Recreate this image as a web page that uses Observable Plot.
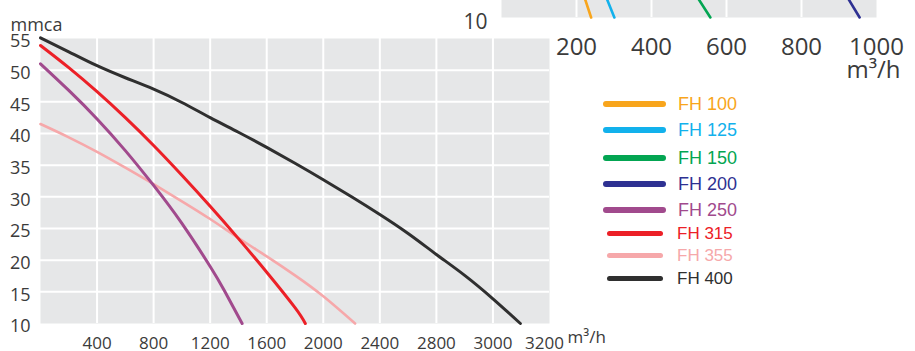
<!DOCTYPE html>
<html><head><meta charset="utf-8">
<script src="https://cdn.jsdelivr.net/npm/d3@7"></script>
<script src="https://cdn.jsdelivr.net/npm/@observablehq/plot@0.6"></script>
<style>
body{margin:0;background:#fff;}
#wrap{position:relative;width:915px;height:351px;overflow:hidden;background:#fff;}
#wrap svg{position:absolute;left:0;}
.sw{position:absolute;border-radius:4px;}
.lt{position:absolute;font-family:"Liberation Sans",Arial,sans-serif;line-height:1;white-space:nowrap;}
</style></head><body><div id="wrap"></div>
<script>
// ---------- data ----------
const xTickLabels = [400, 800, 1200, 1600, 2000, 2400, 2800, 3000, 3200];
const yTickLabels = [10, 15, 20, 25, 30, 35, 40, 45, 50, 55];
const topTickLabels = [200, 400, 600, 800, 1000];

const fanNames  = ["FH 100", "FH 125", "FH 150", "FH 200", "FH 250", "FH 315", "FH 355", "FH 400"];
const fanColors = ["#F8A51C", "#12B1EC", "#03A552", "#2E3192", "#A14A8D", "#EC2027", "#F6A8AA", "#2F2F2F"];

// main chart (m3/h, mmca)
const fh250Flow = [0, 200, 400, 600, 800, 1000, 1200, 1300, 1426];
const fh250Pres = [51.0, 46.8, 42.3, 37.3, 31.8, 25.8, 19.0, 15.2, 10.0];
const fh315Flow = [0, 200, 400, 600, 800, 1000, 1200, 1400, 1600, 1800, 1873];
const fh315Pres = [53.9, 50.4, 46.6, 42.5, 38.1, 33.4, 28.5, 23.4, 18.1, 12.5, 10.0];
const fh355Flow = [0, 200, 400, 600, 800, 1000, 1200, 1400, 1600, 1800, 2000, 2225];
const fh355Pres = [41.5, 39.4, 37.1, 34.6, 32.0, 29.3, 26.5, 23.5, 20.6, 17.6, 14.3, 10.0];
const fh400Flow = [0, 200, 400, 600, 800, 1000, 1200, 1400, 1600, 1800, 2000, 2200, 2400, 2600, 2800, 2900, 3000, 3097];
const fh400Pres = [55.1, 52.9, 50.7, 48.8, 47.0, 44.9, 42.5, 40.2, 37.8, 35.3, 32.7, 30.0, 27.2, 24.2, 20.9, 17.6, 13.9, 10.0];

// upper (cropped) chart: only its bottom edge is visible
const fh100Flow = [239, 221]; const fh100Pres = [10, 13.5];
const fh125Flow = [301, 279]; const fh125Pres = [10, 13.5];
const fh150Flow = [557, 522]; const fh150Pres = [10, 13.5];
const fh200Flow = [955, 922]; const fh200Pres = [10, 13.5];

// ---------- build ----------
const rows = (name, f, p) => f.map((q, i) => ({fan: name, flow: q, pres: p[i]}));
const col = n => fanColors[fanNames.indexOf(n)];
const wrap = document.getElementById("wrap");
const FONT = "'Open Sans', sans-serif";
const TXT = "#3b3b3b";
const fmt = d => String(d);

const mainLines = [
  ["FH 355", fh355Flow, fh355Pres, 2.6],
  ["FH 250", fh250Flow, fh250Pres, 3],
  ["FH 315", fh315Flow, fh315Pres, 3],
  ["FH 400", fh400Flow, fh400Pres, 3]
].map(([n, f, p, w]) => Plot.line(rows(n, f, p), {x: "flow", y: "pres", stroke: col(n), strokeWidth: w, curve: "natural"}));

const main = Plot.plot({
  width: 915, height: 351,
  marginLeft: 40, marginRight: 366, marginTop: 38, marginBottom: 28,
  style: {fontFamily: FONT, color: TXT, background: "transparent"},
  x: {type: "linear", domain: [0, ...xTickLabels]},
  y: {domain: [10, 55]},
  marks: [
    Plot.frame({fill: "#E6E7E8", stroke: "none"}),
    Plot.gridX(xTickLabels.slice(0, -1), {stroke: "#fff", strokeOpacity: 1, strokeWidth: 2}),
    Plot.gridY(yTickLabels.slice(1, -1), {stroke: "#fff", strokeOpacity: 1, strokeWidth: 2}),
    Plot.axisX(xTickLabels.slice(0, -1), {tickSize: 0, tickPadding: 13, fontSize: 17, label: null, tickFormat: fmt}),
    Plot.axisX(xTickLabels.slice(-1), {tickSize: 0, tickPadding: 13, fontSize: 17, dx: -5, label: null, tickFormat: fmt}),
    Plot.axisY(yTickLabels, {tickSize: 0, tickPadding: 10, fontSize: 18, dy: 3, label: null, tickFormat: fmt}),
    ...mainLines,
    Plot.text(["mmca"], {frameAnchor: "top-left", textAnchor: "start", dx: -30, dy: -20, fontSize: 18, fill: TXT}),
    Plot.text(["m³/h"], {frameAnchor: "bottom-right", textAnchor: "start", dx: 18, dy: 19, fontSize: 17, fill: TXT})
  ]
});
main.style.top = "0px";
wrap.appendChild(main);

const topLines = [
  ["FH 100", fh100Flow, fh100Pres],
  ["FH 125", fh125Flow, fh125Pres],
  ["FH 150", fh150Flow, fh150Pres],
  ["FH 200", fh200Flow, fh200Pres]
].map(([n, f, p]) => Plot.line(rows(n, f, p), {x: "flow", y: "pres", stroke: col(n), strokeWidth: 2.6}));

const upper = Plot.plot({
  width: 915, height: 200,
  marginLeft: 501, marginRight: 39, marginTop: 0, marginBottom: 83,
  style: {fontFamily: FONT, color: TXT, background: "transparent"},
  x: {domain: [0, 1000]},
  y: {domain: [10, 30]},
  marks: [
    Plot.frame({fill: "#E6E7E8", stroke: "none"}),
    Plot.gridX(topTickLabels.slice(0, -1), {stroke: "#fff", strokeOpacity: 1, strokeWidth: 2}),
    Plot.axisX(topTickLabels, {tickSize: 0, tickPadding: 20, fontSize: 24, label: null, tickFormat: fmt}),
    Plot.axisY([10], {tickSize: 0, tickPadding: 14, fontSize: 21, dy: 5, label: null, tickFormat: fmt}),
    ...topLines,
    Plot.text(["m³/h"], {frameAnchor: "bottom-right", textAnchor: "end", dx: 24, dy: 60, fontSize: 24, fill: TXT})
  ]
});
upper.style.top = "-100px";
wrap.appendChild(upper);

// ---------- legend ----------
const rowY = [104, 130, 158, 184, 210, 233, 255, 278];
fanNames.forEach((n, i) => {
  const big = i < 5;
  const sw = document.createElement("div");
  sw.className = "sw";
  const h = big ? 6 : 5;
  sw.style.cssText = `left:${big ? 603 : 607}px;width:${big ? 63 : 56}px;height:${h}px;top:${rowY[i] - h / 2}px;background:${fanColors[i]};`;
  wrap.appendChild(sw);
  const t = document.createElement("div");
  t.className = "lt";
  const fs = big ? 18 : 17;
  t.style.cssText = `left:${big ? 678 : 677}px;top:${rowY[i] - fs / 2}px;font-size:${fs}px;color:${fanColors[i]};`;
  t.textContent = n;
  wrap.appendChild(t);
});
</script></body></html>
